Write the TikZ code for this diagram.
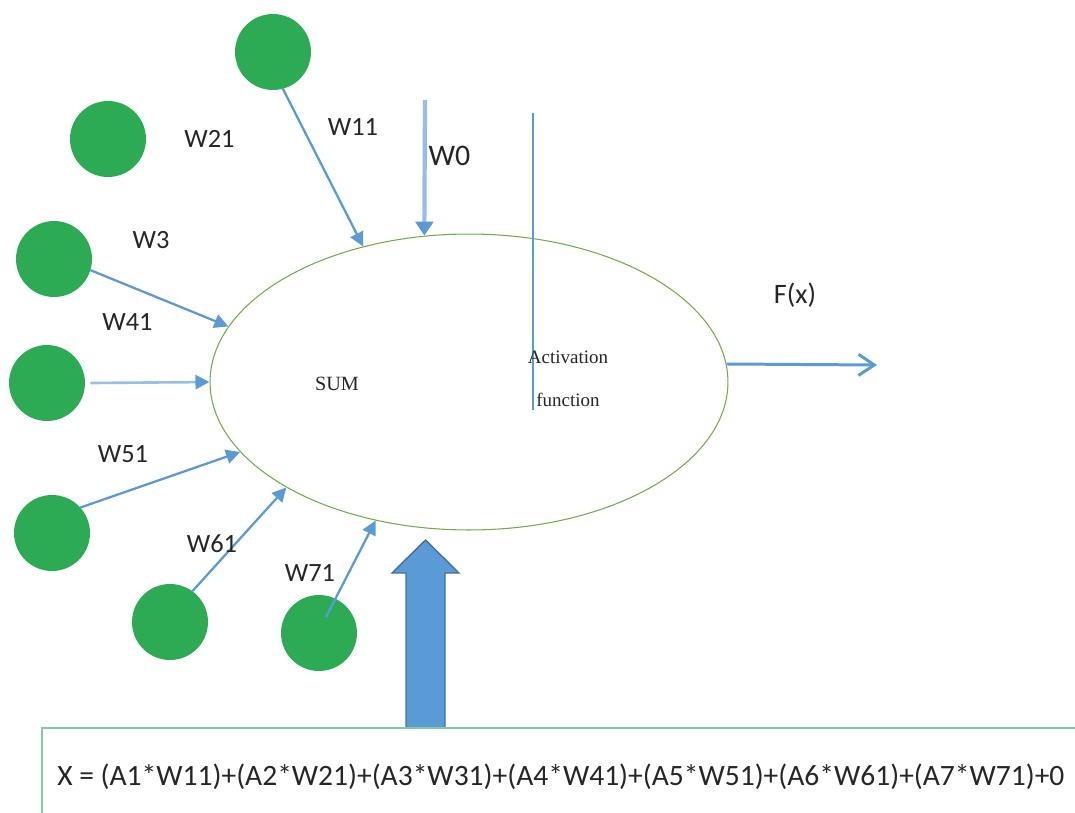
\documentclass[tikz,border=0pt]{standalone}
\usepackage{fontspec}
\setmainfont{Carlito}
\newfontfamily\timesf{Liberation Serif}
\usetikzlibrary{arrows.meta,shapes.geometric}
\definecolor{cgreen}{RGB}{44,170,84}
\definecolor{egreen}{RGB}{112,173,71}
\definecolor{ablue}{RGB}{91,155,213}
\definecolor{lblue}{RGB}{150,190,230}
\definecolor{dblue}{RGB}{65,113,156}
\definecolor{bgreen}{RGB}{130,204,156}
\definecolor{txt}{RGB}{38,38,38}
\begin{document}
\begin{tikzpicture}[x=0.02cm,y=-0.02cm,
  inputnode/.style={circle,fill=cgreen,minimum size=1.52cm,inner sep=0pt,outer sep=0pt},
  wlabel/.style={font=\fontsize{15}{18}\selectfont,text=txt,inner sep=0pt},
  serlabel/.style={font=\timesf\fontsize{10.8}{13}\selectfont,text=txt,inner sep=0pt},
  warrow/.style={draw=ablue,line width=1.3pt,-{Triangle[length=8pt,width=8pt]}},
]
\useasboundingbox (0,0) rectangle (1075,812);

% input neurons
\node[inputnode] (c1) at (273,52) {};
\node[inputnode] (c2) at (108,139) {};
\node[inputnode] (c3) at (54,259) {};
\node[inputnode] (c4) at (47,383) {};
\node[inputnode] (c5) at (52,533) {};
\node[inputnode] (c6) at (170,622) {};
\node[inputnode] (c7) at (319,633) {};

% neuron body
\node[ellipse,draw=egreen,line width=0.6pt,minimum width=10.36cm,minimum height=5.92cm,inner sep=0pt] (E) at (469,382) {};

% activation divider
\coordinate (vt) at (533,113);
\coordinate (vb) at (533,410);
\draw[ablue,line width=0.7pt] (vt) -- (vb);

% helper coordinates
\coordinate (s7) at (326,617);
\coordinate (w0s) at (425,100);
\coordinate (fx) at (877,365);

% weighted connections
\draw[warrow] (c1.-75) -- (E.128);
\draw[warrow] (c3.-17) -- (E.167);
\draw[warrow,draw=lblue,line width=1.5pt,-{Triangle[length=8pt,width=8pt,color=ablue]}] ([xshift=3pt]c4.east) -- (E.180);
\draw[warrow] (c5.42) -- (E.197);
\draw[warrow] (c6.54) -- (E.210);
\draw[warrow] (s7) -- (E.236);
\draw[warrow,draw=lblue,line width=2.4pt,-{Triangle[length=8pt,width=10pt,color=ablue]}] (w0s) -- (E.107);

% output
\draw[draw=ablue,line width=1.7pt,-{Straight Barb[length=9pt,width=12pt]}] (E.4) -- (fx);

% labels
\node[wlabel] (l21) at (209.5,138.5) {W21};
\node[wlabel] (l11) at (353,127) {W11};
\node[wlabel,font=\fontsize{17}{20}\selectfont] (l0) at (449.5,155.5) {W0};
\node[wlabel] (l3) at (151,240) {W3};
\node[wlabel] (l41) at (127.5,322) {W41};
\node[wlabel] (l51) at (123,454) {W51};
\node[wlabel] (l61) at (212,544) {W61};
\node[wlabel] (l71) at (310,573) {W71};
\node[wlabel,font=\fontsize{16}{19}\selectfont] (lfx) at (795,295) {F(x)};
\node[serlabel,font=\timesf\fontsize{11.5}{13}\selectfont] (sum) at (337,384) {SUM};
\node[serlabel] (act) at (568,357) {Activation};
\node[serlabel] (fun) at (568,400) {function};

% big arrow
\draw[fill=ablue,draw=dblue,line width=0.8pt] (406,728) -- (406,573) -- (392,573) -- (425.5,540) -- (459,573) -- (445,573) -- (445,728) -- cycle;

% formula box
\draw[bgreen,line width=1.5pt] (42,728) rectangle (1095,840);
\node[anchor=west,inner sep=0pt,text=txt,font=\fontsize{16.8}{20}\selectfont] (formula) at (57,777) {X = (A1*W11)+(A2*W21)+(A3*W31)+(A4*W41)+(A5*W51)+(A6*W61)+(A7*W71)+0};
\end{tikzpicture}
\end{document}
